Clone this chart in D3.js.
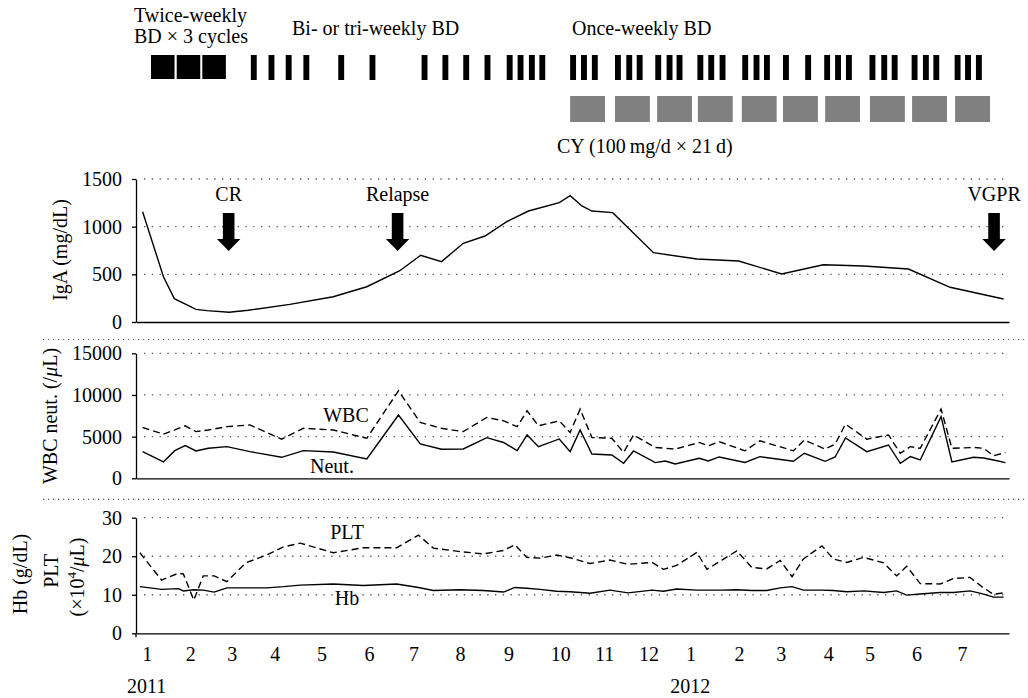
<!DOCTYPE html>
<html>
<head>
<meta charset="utf-8">
<script src="https://cdn.jsdelivr.net/npm/d3@7"></script>
<style>
  body { margin: 0; background: #fff; }
  svg { font-family: 'Liberation Serif', 'DejaVu Serif', serif; font-size: 20px; }
</style>
</head>
<body>
<div id="chart"></div>
<script>
// x values are months since January 2011 (0 = Jan 2011)
const igaMonths = [-0.09, 0.37, 0.61, 1.09, 1.33, 1.82, 2.24, 3.16, 4.12, 4.86, 5.59, 6.05, 6.51, 6.99, 7.47, 7.95, 8.43, 9.11, 9.35, 9.61, 9.83, 10.29, 11.19, 12.15, 13.07, 14.02, 14.94, 15.83, 16.82, 17.74, 18.92];
const igaValues = [1157, 475, 245, 133, 119, 102, 123, 185, 265, 370, 538, 700, 633, 826, 902, 1052, 1164, 1252, 1325, 1217, 1164, 1147, 727, 661, 640, 504, 601, 587, 556, 364, 241];

const wbcMonths = [-0.09, 0.37, 0.62, 0.85, 1.09, 1.36, 1.77, 2.28, 2.98, 3.46, 4.12, 4.86, 5.56, 6.04, 6.51, 6.99, 7.51, 7.88, 8.18, 8.40, 8.65, 9.11, 9.35, 9.57, 9.83, 10.27, 10.53, 10.75, 11.23, 11.45, 11.67, 12.20, 12.40, 12.64, 13.21, 13.54, 14.28, 14.52, 14.98, 15.20, 15.43, 15.90, 16.38, 16.64, 16.86, 17.08, 17.54, 17.78, 18.26, 18.48, 18.70, 18.96];
const wbcValues = [6100, 5300, 5800, 6300, 5600, 5800, 6200, 6400, 4700, 6000, 5800, 4800, 10500, 6700, 6000, 5600, 7300, 6900, 6200, 8100, 6300, 6900, 5500, 8300, 4900, 4800, 3100, 5200, 3700, 3600, 3500, 4300, 3900, 4400, 3300, 4500, 3300, 4600, 3500, 4100, 6500, 4700, 5200, 3000, 3800, 3600, 8300, 3600, 3700, 3600, 2700, 3100];
const neutValues = [3200, 1960, 3320, 3920, 3280, 3600, 3800, 3200, 2520, 3320, 3160, 2320, 7600, 4120, 3480, 3520, 4880, 4300, 3320, 5200, 3800, 4720, 3200, 5800, 2920, 2800, 1800, 3280, 1880, 2080, 1720, 2400, 2080, 2560, 1900, 2600, 2040, 3000, 2040, 2560, 4840, 3200, 4000, 1800, 2600, 2200, 7400, 1960, 2520, 2440, 2200, 1880];

const bloodMonths = [-0.15, 0.33, 0.70, 0.81, 1.04, 1.25, 1.49, 1.77, 2.19, 2.65, 3.02, 3.39, 4.12, 4.78, 5.52, 6.00, 6.33, 6.92, 7.43, 7.88, 8.13, 8.39, 8.69, 9.05, 9.35, 9.79, 10.23, 10.63, 11.16, 11.41, 11.70, 12.15, 12.37, 12.70, 13.03, 13.36, 13.69, 13.99, 14.25, 14.50, 14.91, 15.16, 15.46, 15.83, 16.27, 16.56, 16.78, 17.08, 17.52, 17.81, 18.18, 18.44, 18.70, 18.92];
const pltValues = [20.9, 13.8, 15.6, 15.4, 8.6, 14.9, 14.9, 13.4, 18.3, 20.3, 22.4, 23.4, 20.9, 22.2, 22.2, 25.5, 22.1, 21.2, 20.6, 21.5, 23.0, 19.7, 19.5, 20.3, 19.6, 18.1, 19.0, 17.9, 18.4, 16.6, 17.6, 21.0, 16.6, 19.0, 21.4, 17.1, 16.7, 18.9, 14.7, 19.3, 22.7, 19.3, 18.4, 19.7, 18.3, 14.9, 17.4, 12.9, 12.8, 14.2, 14.5, 12.1, 10.1, 10.5];
const hbValues = [12.1, 11.4, 11.6, 11.0, 11.3, 11.2, 10.7, 11.8, 11.8, 11.8, 12.1, 12.5, 12.8, 12.4, 12.8, 11.9, 11.1, 11.3, 11.1, 10.7, 11.9, 11.7, 11.4, 10.9, 10.8, 10.4, 11.2, 10.5, 11.2, 10.9, 11.5, 11.2, 11.2, 11.2, 11.3, 11.1, 11.1, 11.8, 12.1, 11.2, 11.2, 11.1, 10.8, 11.0, 10.6, 11.0, 9.9, 10.2, 10.6, 10.6, 11.0, 10.3, 9.4, 9.4];

// treatment schedule (start month of each dose / cycle)
const twiceWeeklyStarts = [0.095, 0.663, 1.228];
const twiceWeeklyLength = 0.52;
const biTriWeeklyDoses = [2.30, 2.69, 3.07, 3.46, 4.23, 4.92, 6.07, 6.53, 6.99, 7.46, 7.95, 8.19, 8.44, 8.67];
const onceWeeklyDoses = [9.35, 9.59, 9.83, 10.34, 10.59, 10.82, 11.23, 11.48, 11.70, 12.16, 12.40, 12.65, 13.15, 13.40, 13.63, 14.05, 14.54, 14.96, 15.20, 15.44, 15.96, 16.22, 16.45, 16.89, 17.14, 17.37, 17.84, 18.07, 18.31];
const doseLength = 0.13;
const cyStarts = [9.35, 10.34, 11.27, 12.17, 13.14, 14.05, 14.98, 15.97, 16.90, 17.85];
const cyLength = 0.77;

const responses = [
  { label: 'CR', month: 1.81 },
  { label: 'Relapse', month: 5.54 },
  { label: 'VGPR', month: 18.71 }
];

// month tick labels and where they sit on the month axis
const monthTickPos = [0, 0.96, 1.88, 2.83, 3.86, 4.91, 5.89, 6.92, 7.99, 9.13, 10.1, 11.08, 12.01, 13.08, 14.0, 15.05, 15.96, 17.0, 18.0];
const monthTickLabels = ['1', '2', '3', '4', '5', '6', '7', '8', '9', '10', '11', '12', '1', '2', '3', '4', '5', '6', '7'];
const years = [{ label: '2011', month: 0 }, { label: '2012', month: 12 }];

const width = 1028, height = 698;
const left = 136, right = 1009;

const svg = d3.select('#chart').append('svg')
  .attr('width', width)
  .attr('height', height);

const x = d3.scaleLinear().domain([-0.236, 19.04]).range([left, right]);

// ---- treatment bars
const sched = svg.append('g');
sched.selectAll('rect.tw')
  .data(twiceWeeklyStarts)
  .join('rect')
  .attr('class', 'tw')
  .attr('x', (d) => x(d))
  .attr('width', x(twiceWeeklyLength) - x(0))
  .attr('y', 55)
  .attr('height', 24)
  .attr('fill', '#000');

sched.selectAll('rect.dose')
  .data(biTriWeeklyDoses.concat(onceWeeklyDoses))
  .join('rect')
  .attr('class', 'dose')
  .attr('x', (d) => x(d))
  .attr('width', x(doseLength) - x(0))
  .attr('y', 55)
  .attr('height', 25)
  .attr('fill', '#000');

sched.selectAll('rect.cy')
  .data(cyStarts)
  .join('rect')
  .attr('class', 'cy')
  .attr('x', (d) => x(d))
  .attr('width', x(cyLength) - x(0))
  .attr('y', 96)
  .attr('height', 26)
  .attr('fill', '#808080');

const topText = [
  { t: 'Twice-weekly', x: 134, y: 22 },
  { t: 'BD \u00d7 3 cycles', x: 134, y: 43 },
  { t: 'Bi- or tri-weekly BD', x: 292, y: 35 },
  { t: 'Once-weekly BD', x: 572, y: 35 },
  { t: 'CY (100\u2009mg/d \u00d7 21\u2009d)', x: 557, y: 153 }
];
sched.selectAll('text')
  .data(topText)
  .join('text')
  .attr('x', (d) => d.x)
  .attr('y', (d) => d.y)
  .text((d) => d.t);

// ---- panels
const panels = [
  { top: 179, bottom: 322, max: 1500, ticks: [0, 500, 1000, 1500] },
  { top: 353.3, bottom: 478.3, max: 15000, ticks: [0, 5000, 10000, 15000] },
  { top: 517.7, bottom: 633.3, max: 30, ticks: [0, 10, 20, 30] }
];

panels.forEach((p) => {
  p.y = d3.scaleLinear().domain([0, p.max]).range([p.bottom, p.top]);

  // dotted grid
  svg.append('g')
    .selectAll('line')
    .data(p.ticks.filter((t) => t > 0))
    .join('line')
    .attr('x1', left + 8)
    .attr('x2', right)
    .attr('y1', (d) => p.y(d))
    .attr('y2', (d) => p.y(d))
    .attr('stroke', '#555')
    .attr('stroke-width', 1.3)
    .attr('stroke-dasharray', '1.3,6.5');

  const ya = svg.append('g')
    .attr('transform', `translate(${left},0)`)
    .call(d3.axisLeft(p.y)
      .tickValues(p.ticks)
      .tickFormat(d3.format('d'))
      .tickSize(4)
      .tickSizeOuter(0)
      .tickPadding(10))
    .attr('font-family', null)
    .attr('font-size', null);
  ya.selectAll('text').attr('font-size', 20).attr('fill', '#000');
  ya.selectAll('line, path').attr('stroke', '#000').attr('stroke-width', 1.3);

  const xa = svg.append('g')
    .attr('transform', `translate(0,${p.bottom})`)
    .call(d3.axisBottom(x).tickValues([]).tickSizeOuter(0));
  xa.selectAll('path').attr('stroke', '#000').attr('stroke-width', 1.3);
});

// panel separators
svg.append('g')
  .selectAll('line')
  .data([339.5, 499.3])
  .join('line')
  .attr('x1', 43)
  .attr('x2', width)
  .attr('y1', (d) => d)
  .attr('y2', (d) => d)
  .attr('stroke', '#555')
  .attr('stroke-width', 1.2)
  .attr('stroke-dasharray', '1.2,3.8');

// month axis
const ma = svg.append('g')
  .attr('transform', `translate(0,${panels[2].bottom})`)
  .call(d3.axisBottom(x)
    .tickValues(monthTickPos)
    .tickFormat((d, i) => monthTickLabels[i])
    .tickSize(0)
    .tickPadding(14))
  .attr('font-family', null)
  .attr('font-size', null);
ma.select('.domain').remove();
ma.selectAll('text').attr('font-size', 20).attr('fill', '#000');

svg.append('line')
  .attr('x1', left).attr('x2', left)
  .attr('y1', panels[2].bottom).attr('y2', panels[2].bottom + 4)
  .attr('stroke', '#000').attr('stroke-width', 1.3);

svg.append('g')
  .selectAll('text')
  .data(years)
  .join('text')
  .attr('x', (d) => x(d.month))
  .attr('y', 693)
  .attr('text-anchor', 'middle')
  .text((d) => d.label);

// ---- series
const drawLine = (months, values, yScale, dashed) => {
  svg.append('path')
    .datum(d3.zip(months, values))
    .attr('fill', 'none')
    .attr('stroke', '#000')
    .attr('stroke-width', 1.4)
    .attr('stroke-dasharray', dashed ? '7,4' : null)
    .attr('d', d3.line().x((d) => x(d[0])).y((d) => yScale(d[1])));
};

drawLine(igaMonths, igaValues, panels[0].y, false);
drawLine(wbcMonths, wbcValues, panels[1].y, true);
drawLine(wbcMonths, neutValues, panels[1].y, false);
drawLine(bloodMonths, pltValues, panels[2].y, true);
drawLine(bloodMonths, hbValues, panels[2].y, false);

// response arrows
const arr = svg.append('g').selectAll('g')
  .data(responses)
  .join('g')
  .attr('transform', (d) => `translate(${x(d.month)},0)`);
arr.append('text')
  .attr('y', 200.7)
  .attr('text-anchor', 'middle')
  .text((d) => d.label);
arr.append('path')
  .attr('d', 'M-5.8,213 L5.8,213 L5.8,239 L11.7,239 L0,251 L-11.7,239 L-5.8,239 Z')
  .attr('fill', '#000');

// series labels
const seriesLabels = [
  { t: 'WBC', x: 346, y: 421.7 },
  { t: 'Neut.', x: 332, y: 472.7 },
  { t: 'PLT', x: 347, y: 539.3 },
  { t: 'Hb', x: 347, y: 605 }
];
svg.append('g')
  .selectAll('text')
  .data(seriesLabels)
  .join('text')
  .attr('x', (d) => d.x)
  .attr('y', (d) => d.y)
  .attr('text-anchor', 'middle')
  .text((d) => d.t);

// y axis titles
const rot = (bx, cy) => `translate(${bx},${cy}) rotate(-90)`;
svg.append('text').attr('transform', rot(66.5, 250)).attr('text-anchor', 'middle').text('IgA (mg/dL)');

const wt = svg.append('text').attr('transform', rot(57, 416)).attr('text-anchor', 'middle');
wt.append('tspan').text('WBC neut. (/');
wt.append('tspan').attr('font-style', 'italic').text('\u03bc');
wt.append('tspan').text('L)');

svg.append('text').attr('transform', rot(27, 574)).attr('text-anchor', 'middle').text('Hb (g/dL)');
svg.append('text').attr('transform', rot(58, 571)).attr('text-anchor', 'middle').text('PLT');
const pt = svg.append('text').attr('transform', rot(84, 577)).attr('text-anchor', 'middle');
pt.append('tspan').text('(\u00d710');
pt.append('tspan').attr('font-size', 13).attr('dy', -8).text('4');
pt.append('tspan').attr('dy', 8).text('/');
pt.append('tspan').attr('font-style', 'italic').text('\u03bc');
pt.append('tspan').text('L)');
</script>
</body>
</html>
